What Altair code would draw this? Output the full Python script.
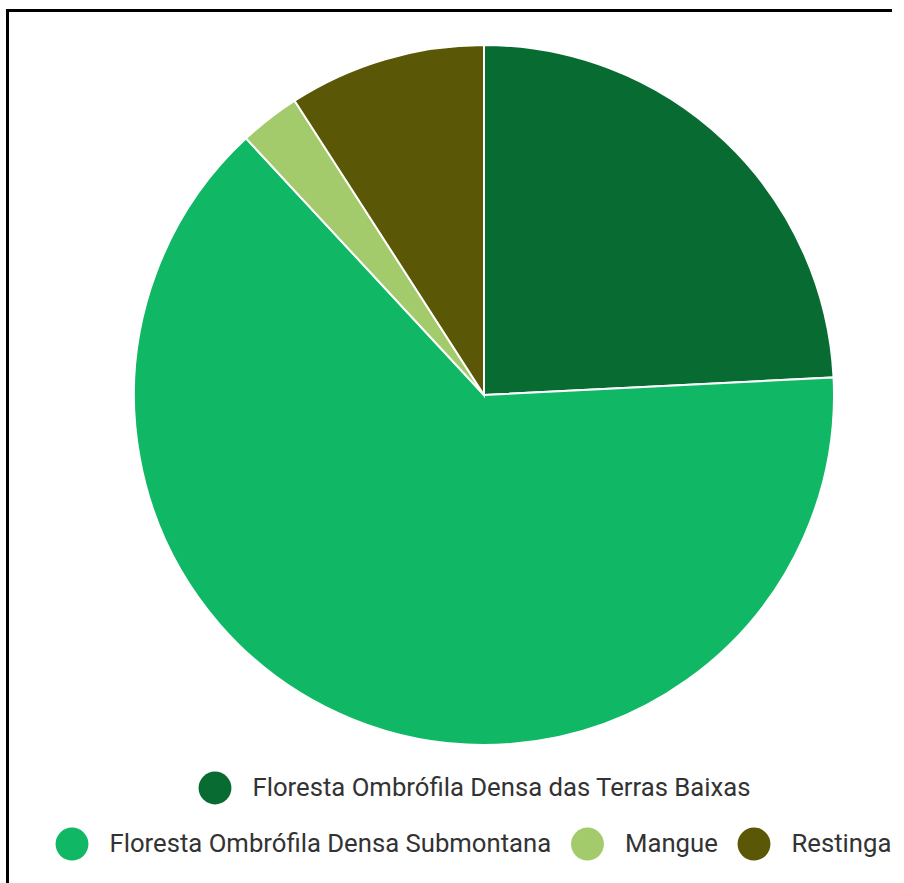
import altair as alt
import pandas as pd

categories = [
    "Floresta Ombrófila Densa das Terras Baixas",
    "Floresta Ombrófila Densa Submontana",
    "Mangue",
    "Restinga",
]
values = [24.2, 63.9, 2.8, 9.1]
colors = ["#086b32", "#10b865", "#a4cb6b", "#5a5706"]

df = pd.DataFrame({"category": categories, "value": values, "order": list(range(len(categories)))})
total = sum(values)

base = alt.Chart(df).transform_window(
    cum="sum(value)", sort=[alt.SortField("order")], frame=[None, 0]
).transform_calculate(start="datum.cum - datum.value")

theta_scale = alt.Scale(domain=[0, total])

legend_common = dict(
    title=None,
    orient="none",
    direction="horizontal",
    symbolType="circle",
    symbolSize=1080,
    symbolStrokeWidth=0,
    symbolOpacity=1,
    labelFont="Roboto",
    labelFontSize=25.7,
    labelColor="#333333",
    labelLimit=1000,
    labelOffset=21,
    columnPadding=19.5,
    padding=0,
)

arc1 = base.transform_filter("datum.order == 0").mark_arc(
    radius=350, stroke="white", strokeWidth=2
).encode(
    x=alt.value(484),
    y=alt.value(395),
    theta=alt.Theta("start:Q", scale=theta_scale, stack=False),
    theta2="cum:Q",
    color=alt.Color(
        "category:N",
        scale=alt.Scale(domain=categories[:1], range=colors[:1]),
        legend=alt.Legend(legendX=198.5, legendY=771.5, **legend_common),
    ),
)

arc2 = base.transform_filter("datum.order > 0").mark_arc(
    radius=350, stroke="white", strokeWidth=2
).encode(
    x=alt.value(484),
    y=alt.value(395),
    theta=alt.Theta("start:Q", scale=theta_scale, stack=False),
    theta2="cum:Q",
    color=alt.Color(
        "category:N",
        scale=alt.Scale(domain=categories[1:], range=colors[1:]),
        legend=alt.Legend(legendX=55.5, legendY=827.5, **legend_common),
    ),
)

one = alt.Chart(df).transform_filter("datum.order == 0")
border_left = one.mark_rule(stroke="black", strokeWidth=3).encode(
    x=alt.value(7.5), y=alt.value(9), y2=alt.value(883)
)
border_top = one.mark_rule(stroke="black", strokeWidth=3).encode(
    x=alt.value(6), x2=alt.value(892), y=alt.value(10.5)
)

chart = alt.layer(border_left, border_top, arc1, arc2).resolve_scale(color="independent").properties(
    width=904, height=883, padding=0, autosize="none", background="white"
).configure_view(strokeWidth=0)

chart.save("out.html", embed_options={"renderer": "svg", "actions": False})
